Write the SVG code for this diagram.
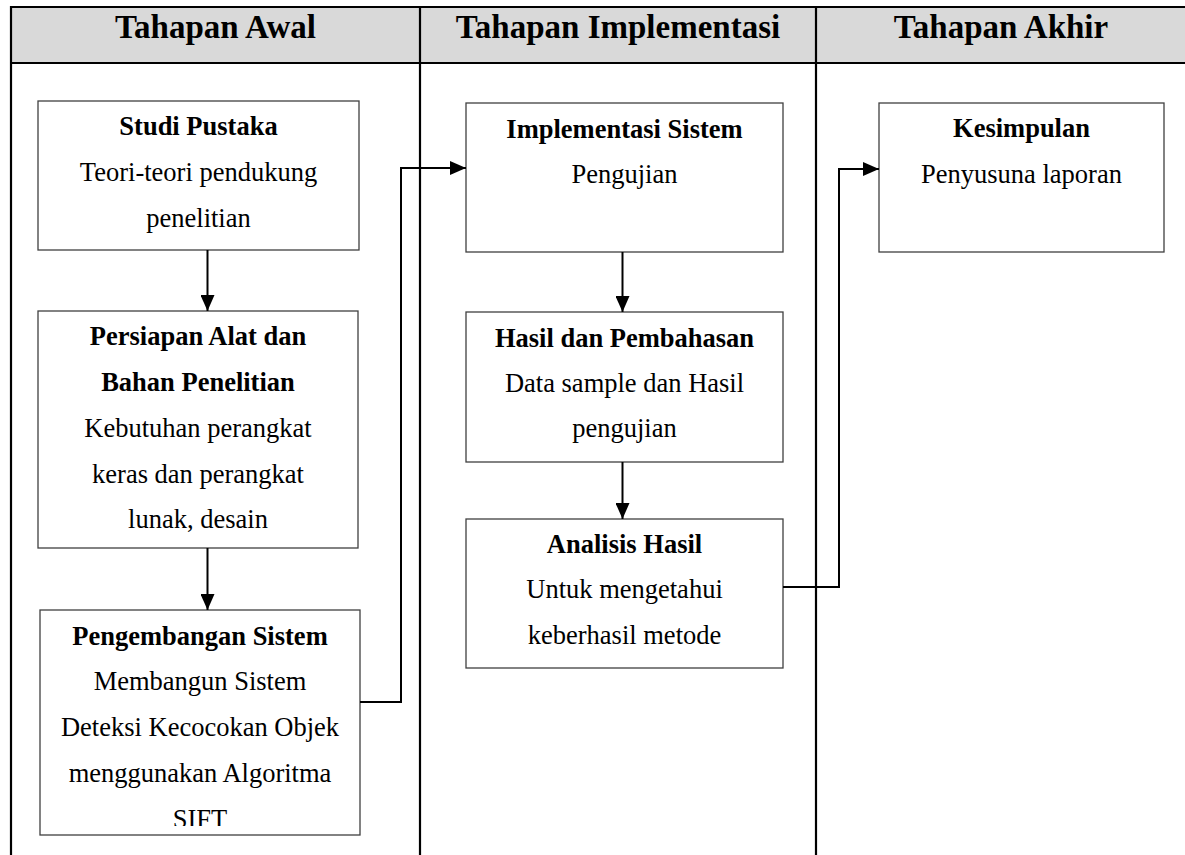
<svg xmlns="http://www.w3.org/2000/svg" width="1185" height="855" viewBox="0 0 1185 855">
<defs>
<style>
.bx{fill:#fff;stroke:#404040;stroke-width:1.3}
.t{font-family:"Liberation Serif","Times New Roman",serif;font-size:26.5px;fill:#000;text-anchor:middle}
.b{font-weight:bold}
.h{font-family:"Liberation Serif","Times New Roman",serif;font-size:33px;font-weight:bold;fill:#000;text-anchor:middle}
.ln{fill:none;stroke:#000;stroke-width:2.2}
.c{fill:none;stroke:#000;stroke-width:2}
</style>
<marker id="ar" viewBox="0 0 16 14" refX="16" refY="7" markerWidth="16" markerHeight="14" markerUnits="userSpaceOnUse" orient="auto">
<path d="M0,0 L16,7 L0,14 z" fill="#000"/>
</marker>
<clipPath id="clipP"><rect x="40" y="610" width="320" height="216"/></clipPath>
</defs>
<rect x="0" y="0" width="1185" height="855" fill="#fff"/>
<g id="table">
<rect x="11" y="7" width="1180" height="56" fill="#d9d9d9"/>
<line class="ln" x1="11" y1="7" x2="1185" y2="7"/>
<line class="ln" x1="11" y1="63" x2="1185" y2="63"/>
<line class="ln" x1="11" y1="6" x2="11" y2="855"/>
<line class="ln" x1="420" y1="6" x2="420" y2="855"/>
<line class="ln" x1="816" y1="6" x2="816" y2="855"/>
<text class="h" x="215.5" y="38">Tahapan Awal</text>
<text class="h" x="618" y="38">Tahapan Implementasi</text>
<text class="h" x="1001" y="38">Tahapan Akhir</text>
</g>
<g id="n1">
<rect class="bx" x="38" y="101" width="321" height="149"/>
<text class="t b" x="198.5" y="135">Studi Pustaka</text>
<text class="t" x="198.5" y="181">Teori-teori pendukung</text>
<text class="t" x="198.5" y="227">penelitian</text>
</g>
<g id="n2">
<rect class="bx" x="38" y="311" width="320" height="237"/>
<text class="t b" x="198" y="345">Persiapan Alat dan</text>
<text class="t b" x="198" y="391">Bahan Penelitian</text>
<text class="t" x="198" y="437">Kebutuhan perangkat</text>
<text class="t" x="198" y="483">keras dan perangkat</text>
<text class="t" x="198" y="528">lunak, desain</text>
</g>
<g id="n3">
<rect class="bx" x="40" y="610" width="320" height="225"/>
<g clip-path="url(#clipP)">
<text class="t b" x="200" y="645">Pengembangan Sistem</text>
<text class="t" x="200" y="690">Membangun Sistem</text>
<text class="t" x="200" y="736">Deteksi Kecocokan Objek</text>
<text class="t" x="200" y="782">menggunakan Algoritma</text>
<text class="t" x="200" y="828">SIFT</text>
</g>
</g>
<g id="n4">
<rect class="bx" x="466" y="103" width="317" height="149"/>
<text class="t b" x="624.5" y="138">Implementasi Sistem</text>
<text class="t" x="624.5" y="183">Pengujian</text>
</g>
<g id="n5">
<rect class="bx" x="466" y="312" width="317" height="150"/>
<text class="t b" x="624.5" y="347">Hasil dan Pembahasan</text>
<text class="t" x="624.5" y="392">Data sample dan Hasil</text>
<text class="t" x="624.5" y="437">pengujian</text>
</g>
<g id="n6">
<rect class="bx" x="466" y="519" width="317" height="149"/>
<text class="t b" x="624.5" y="553">Analisis Hasil</text>
<text class="t" x="624.5" y="598">Untuk mengetahui</text>
<text class="t" x="624.5" y="644">keberhasil metode</text>
</g>
<g id="n7">
<rect class="bx" x="879" y="103" width="285" height="149"/>
<text class="t b" x="1021.5" y="137">Kesimpulan</text>
<text class="t" x="1021.5" y="183">Penyusuna laporan</text>
</g>
<g id="connectors">
<line class="c" x1="207.5" y1="250" x2="207.5" y2="311" marker-end="url(#ar)"/>
<line class="c" x1="207.5" y1="548" x2="207.5" y2="610" marker-end="url(#ar)"/>
<polyline class="c" points="360,702 401,702 401,168 466,168" marker-end="url(#ar)"/>
<line class="c" x1="622.5" y1="252" x2="622.5" y2="312" marker-end="url(#ar)"/>
<line class="c" x1="622.5" y1="462" x2="622.5" y2="519" marker-end="url(#ar)"/>
<polyline class="c" points="783,587 839,587 839,169 879,169" marker-end="url(#ar)"/>
</g>
</svg>
